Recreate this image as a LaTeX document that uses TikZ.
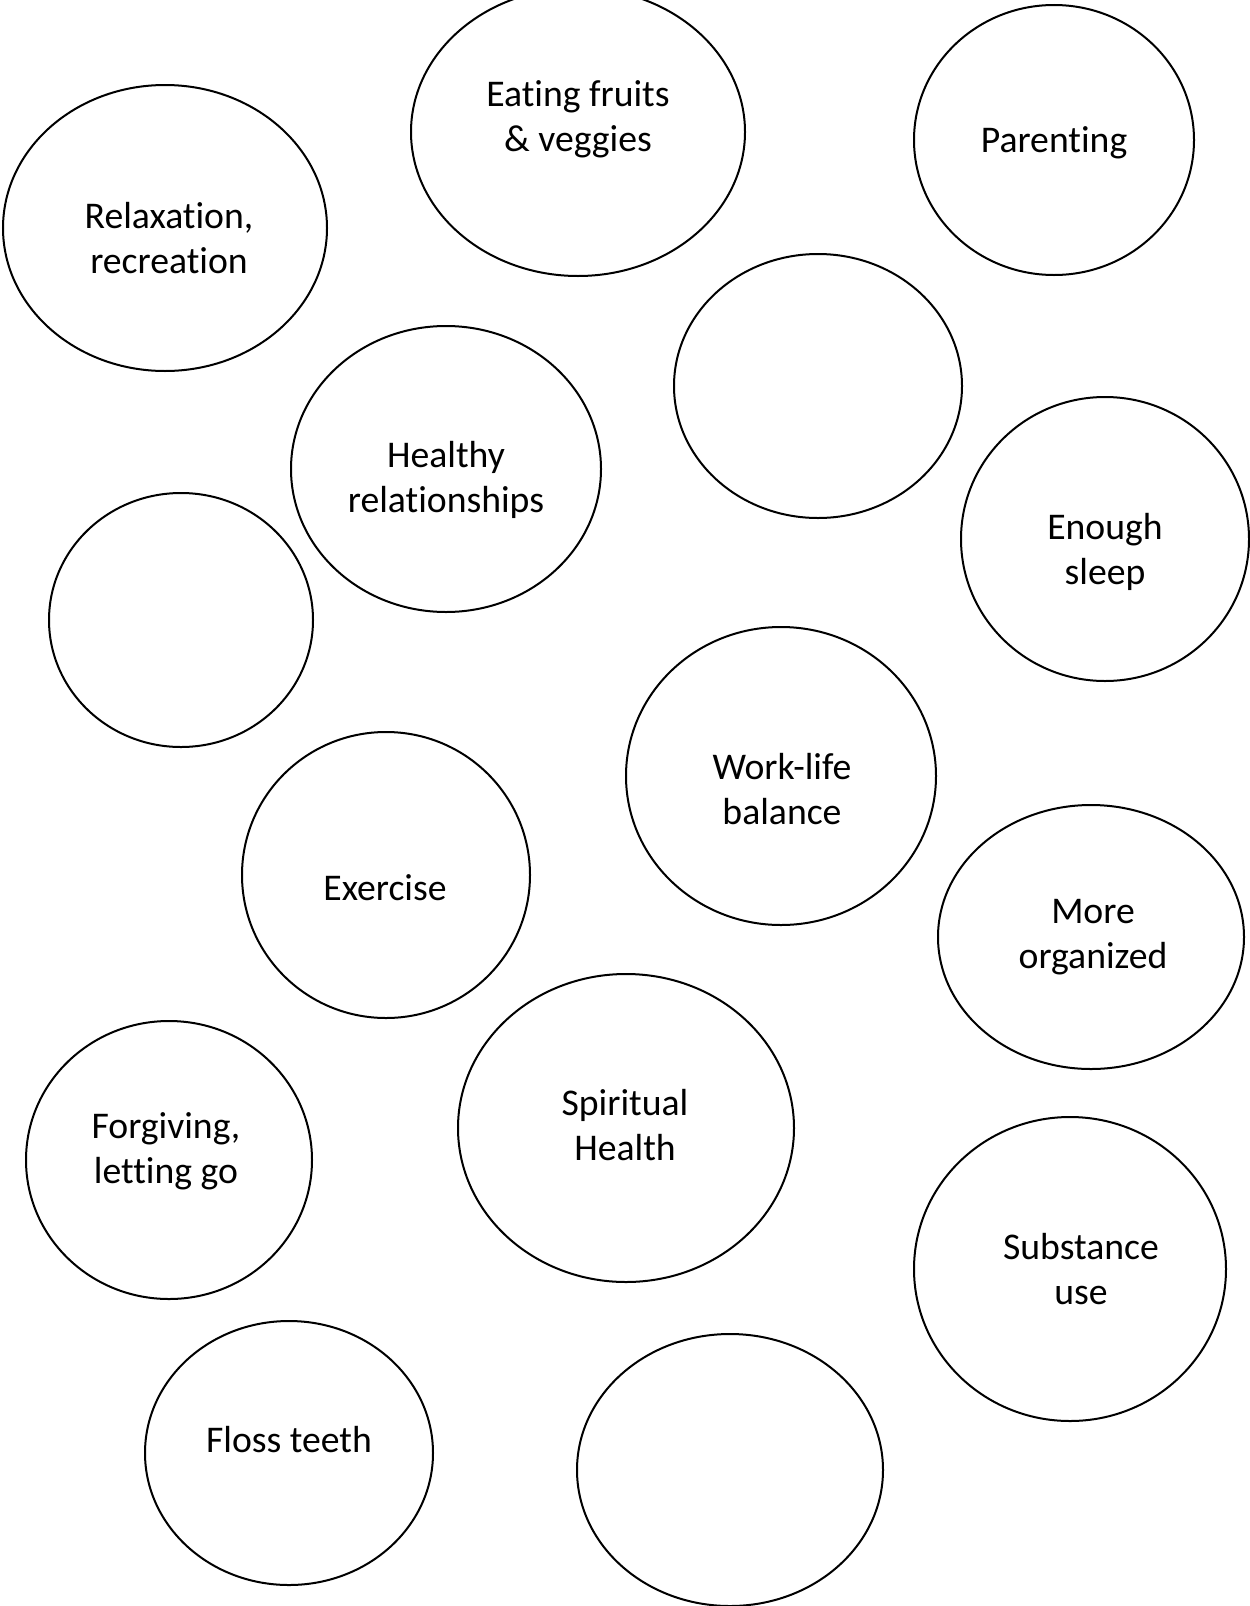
\documentclass[tikz,border=0pt]{standalone}
\usepackage{fontspec}
\setmainfont{Carlito}[Ligatures=NoCommon]
\usetikzlibrary{shapes.geometric}
\begin{document}
\begin{tikzpicture}[x=1pt,y=-1pt,
  bubble/.style={draw=black, line width=2pt, ellipse, inner sep=0pt, outer sep=0pt},
  txt/.style={align=center, inner sep=0pt, font=\fontsize{37.7}{45}\selectfont}]
\useasboundingbox (0,0) rectangle (1250,1606);
\clip (0,0) rectangle (1250,1606);
% bubbles: centre, then width and height
\node[bubble, minimum width=324pt, minimum height=286pt] (relax) at (165,228) {};
\node[bubble, minimum width=334pt, minimum height=288pt] (fruit) at (578,132) {};
\node[bubble, minimum width=280pt, minimum height=270pt] (parent) at (1054,140) {};
\node[bubble, minimum width=288pt, minimum height=264pt] (blankA) at (818,386) {};
\node[bubble, minimum width=310pt, minimum height=286pt] (relat) at (446,469) {};
\node[bubble, minimum width=288pt, minimum height=284pt] (sleep) at (1105,539) {};
\node[bubble, minimum width=264pt, minimum height=254pt] (blankB) at (181,620) {};
\node[bubble, minimum width=310pt, minimum height=298pt] (work) at (781,776) {};
\node[bubble, minimum width=288pt, minimum height=286pt] (exer) at (386,875) {};
\node[bubble, minimum width=306pt, minimum height=264pt] (organ) at (1091,937) {};
\node[bubble, minimum width=286pt, minimum height=278pt] (forgive) at (169,1160) {};
\node[bubble, minimum width=336pt, minimum height=308pt] (spirit) at (626,1128) {};
\node[bubble, minimum width=312pt, minimum height=304pt] (subst) at (1070,1269) {};
\node[bubble, minimum width=288pt, minimum height=264pt] (floss) at (289,1453) {};
\node[bubble, minimum width=306pt, minimum height=272pt] (blankC) at (730,1470) {};
% labels
\node[txt] (relaxT) at (169,238) {Relaxation,\\recreation};
\node[txt] (fruitT) at (578,119) {Eating fruits\\\& veggies};
\node[txt] (parentT) at (1054,143) {Parenting};
\node[txt] (relatT) at (446,480) {Healthy\\relationships};
\node[txt] (sleepT) at (1105,552) {Enough\\sleep};
\node[txt] (workT) at (782,789) {Work-life\\balance};
\node[txt] (exerT) at (385,888) {Exercise};
\node[txt] (organT) at (1093,937) {More\\organized};
\node[txt] (forgiveT) at (166,1151) {Forgiving,\\letting go};
\node[txt] (spiritT) at (625,1125) {Spiritual\\Health};
\node[txt] (substT) at (1081,1269) {Substance\\use};
\node[txt] (flossT) at (289,1440) {Floss teeth};
\end{tikzpicture}
\end{document}
